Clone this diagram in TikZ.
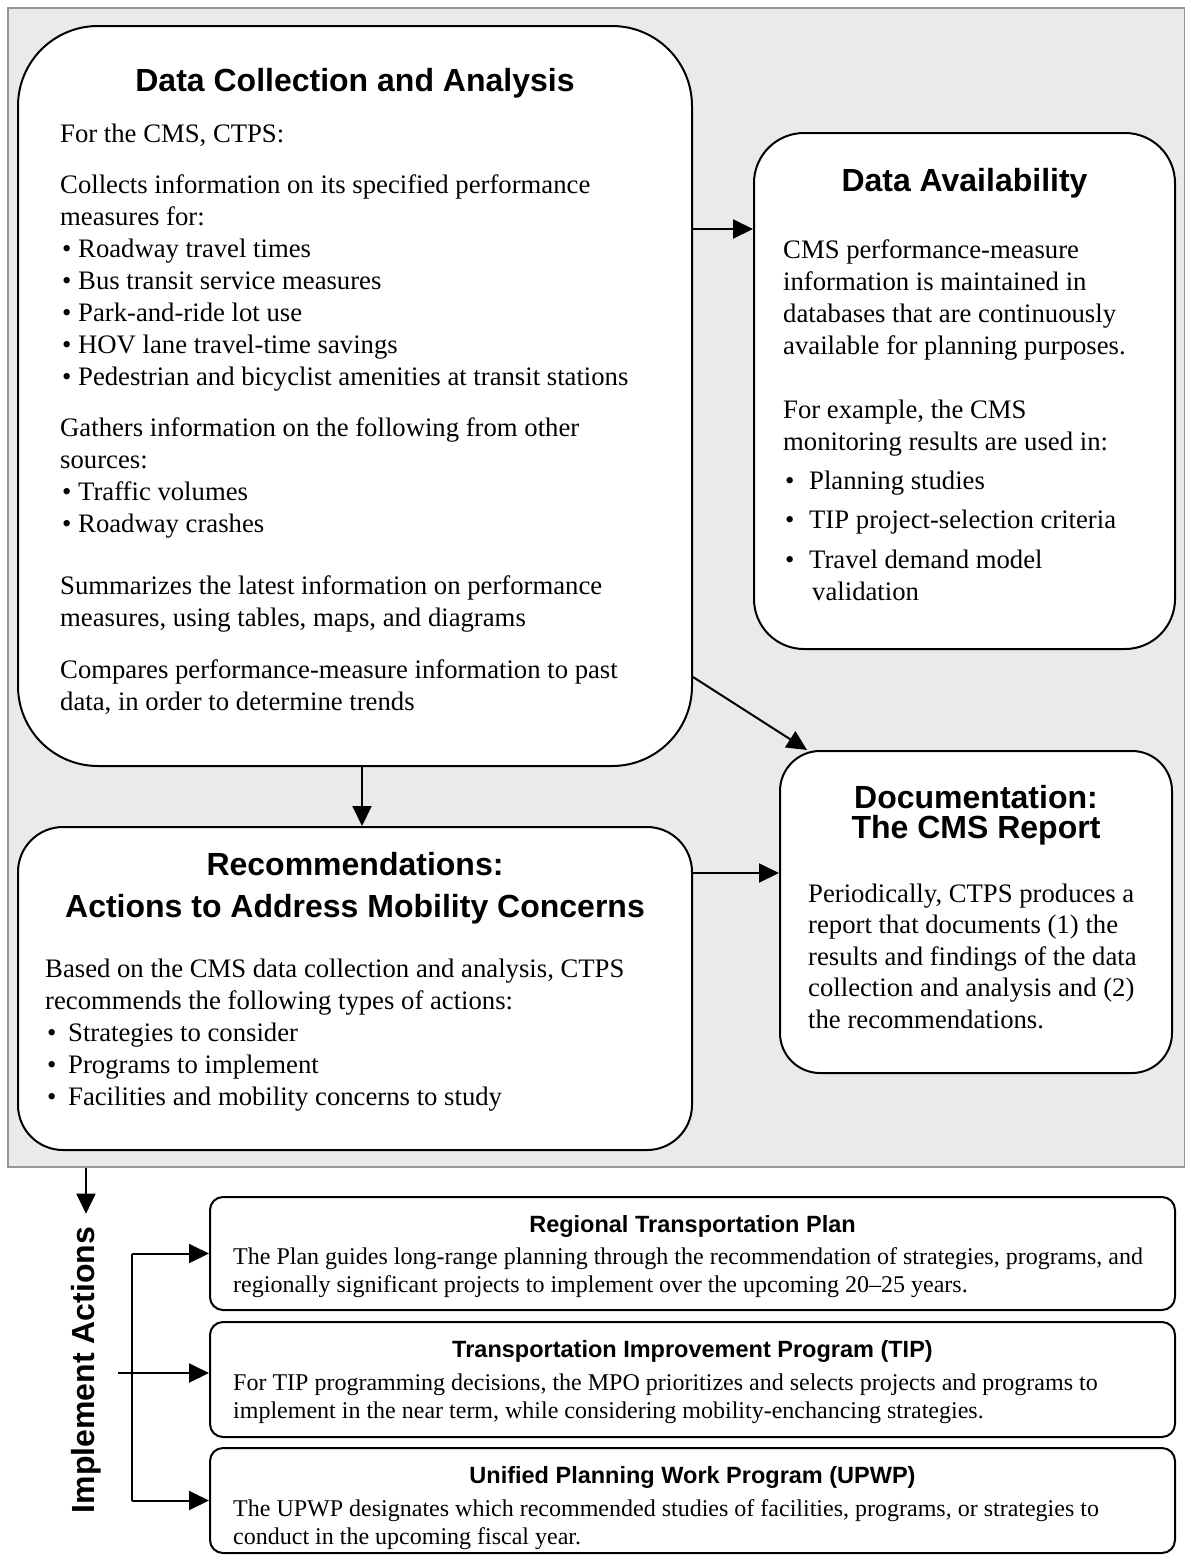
\documentclass[tikz,border=0pt]{standalone}
\usepackage{fontspec}
\setmainfont{Liberation Serif}
\setsansfont{Liberation Sans}
\usetikzlibrary{arrows.meta,calc}
\definecolor{panelgray}{RGB}{234,234,234}
\definecolor{panelline}{RGB}{150,150,150}
\newcommand{\bodytext}{\fontsize{26.7}{32}\selectfont}
\newcommand{\doctext}{\fontsize{26.7}{31.5}\selectfont}
\newcommand{\titletext}{\sffamily\bfseries\fontsize{32}{38}\selectfont}
\newcommand{\smallbody}{\fontsize{24}{28.5}\selectfont}
\newcommand{\smalltitle}{\sffamily\bfseries\fontsize{23.5}{28}\selectfont}
\newcommand{\bul}[1]{\makebox[#1][l]{\hspace{2pt}•}}
\begin{document}
\begin{tikzpicture}[x=1pt,y=-1pt,
  box/.style={draw=black,line width=2pt,fill=white,rounded corners=#1,inner sep=0pt},
  arr/.style={line width=2pt,-{Triangle[length=20pt,width=19pt]}},
  txt/.style={anchor=base west,inner sep=0pt,align=left,font=\bodytext},
  ttl/.style={anchor=base,inner sep=0pt,align=center,font=\titletext},
  stxt/.style={anchor=base west,inner sep=0pt,align=left,font=\smallbody},
  sttl/.style={anchor=base,inner sep=0pt,font=\smalltitle}]
\useasboundingbox (0,0) rectangle (1185,1556);
\fill[white] (0,0) rectangle (1185,1556);
% panel
\node[draw=panelline,fill=panelgray,line width=1.5pt,minimum width=1177pt,minimum height=1159pt,inner sep=0pt] (panel) at (596.5,587.5) {};
% boxes
\node[box=80pt,minimum width=674pt,minimum height=740pt] (b1) at (355,396) {};
\node[box=50pt,minimum width=421pt,minimum height=516pt] (b2) at (964.5,391) {};
\node[box=40pt,minimum width=392pt,minimum height=322pt] (b3) at (976,912) {};
\node[box=45pt,minimum width=674pt,minimum height=323pt] (b4) at (355,988.5) {};
\node[box=13pt,minimum width=965pt,minimum height=113pt] (rtp) at (692.5,1253.5) {};
\node[box=13pt,minimum width=965pt,minimum height=115pt] (tip) at (692.5,1379.5) {};
\node[box=13pt,minimum width=965pt,minimum height=105pt] (upwp) at (692.5,1500.5) {};
% box 1 text (multi-line nodes are anchored at the baseline of their last line)
\node[ttl] (t1) at (355,91) {Data Collection and Analysis};
\node[txt] (t1a) at (60,142) {For the CMS, CTPS:};
\node[txt] (t1b) at (60,385) {Collects information on its specified performance\\measures for:\\\bul{18pt}Roadway travel times\\\bul{18pt}Bus transit service measures\\\bul{18pt}Park-and-ride lot use\\\bul{18pt}HOV lane travel-time savings\\\bul{18pt}Pedestrian and bicyclist amenities at transit stations};
\node[txt] (t1c) at (60,532) {Gathers information on the following from other\\sources:\\\bul{18pt}Traffic volumes\\\bul{18pt}Roadway crashes};
\node[txt] (t1d) at (60,626) {Summarizes the latest information on performance\\measures, using tables, maps, and diagrams};
\node[txt] (t1e) at (60,710) {Compares performance-measure information to past\\data, in order to determine trends};
% box 2 text
\node[ttl] (t2) at (964.5,191.5) {Data Availability};
\node[txt] (t2a) at (783,354) {CMS performance-measure\\information is maintained in\\databases that are continuously\\available for planning purposes.};
\node[txt] (t2b) at (783,450) {For example, the CMS\\monitoring results are used in:};
\node[txt] (t2c) at (783,600) {\bul{26pt}Planning studies\\[7pt]\bul{26pt}TIP project-selection criteria\\[8pt]\bul{26pt}Travel demand model\\\hspace{29pt}validation};
% box 3 text
\node[ttl,font=\sffamily\bfseries\fontsize{32}{30}\selectfont] (t3) at (976,838) {Documentation:\\The CMS Report};
\node[txt,font=\doctext] (t3a) at (808,1028) {Periodically, CTPS produces a\\report that documents (1) the\\results and findings of the data\\collection and analysis and (2)\\the recommendations.};
% box 4 text
\node[ttl,font=\sffamily\bfseries\fontsize{32}{42}\selectfont] (t4) at (355,917) {Recommendations:\\Actions to Address Mobility Concerns};
\node[txt] (t4a) at (45,1105) {Based on the CMS data collection and analysis, CTPS\\recommends the following types of actions:\\\bul{23pt}Strategies to consider\\\bul{23pt}Programs to implement\\\bul{23pt}Facilities and mobility concerns to study};
% bottom boxes text
\node[sttl] (r1) at (692.5,1232.5) {Regional Transportation Plan};
\node[stxt] (r2) at (233,1292.5) {The Plan guides long-range planning through the recommendation of strategies, programs, and\\regionally significant projects to implement over the upcoming 20–25 years.};
\node[sttl] (p1) at (692.5,1357.5) {Transportation Improvement Program (TIP)};
\node[stxt] (p2) at (233,1418.5) {For TIP programming decisions, the MPO prioritizes and selects projects and programs to\\implement in the near term, while considering mobility-enchancing strategies.};
\node[sttl] (u1) at (692.5,1483.5) {Unified Planning Work Program (UPWP)};
\node[stxt] (u2) at (233,1544.5) {The UPWP designates which recommended studies of facilities, programs, or strategies to\\conduct in the upcoming fiscal year.};
% implement label
\node[rotate=90,inner sep=0pt,font=\titletext] (impl) at (86,1370) {Implement Actions};
% connectors
\draw[arr] (b1.east |- 0,229) -- (b2.west |- 0,229);
\draw[arr] (b1.east |- 0,677) -- ([xshift=28pt]b3.north west);
\draw[arr] (b1.south -| 362,0) -- (b4.north -| 362,0);
\draw[arr] (b4.east |- 0,873) -- (b3.west |- 0,873);
\draw[arr] (panel.south -| impl.east) -- ([yshift=13pt]impl.east);
\coordinate (v) at (132,0);
\coordinate (j) at (118,1373);
\draw[line width=2pt] (v |- rtp.west) -- (v |- upwp.west);
\draw[arr] (v |- rtp.west) -- (rtp.west);
\draw[arr] (j) -- (tip.west |- j);
\draw[arr] (v |- upwp.west) -- (upwp.west);
\end{tikzpicture}
\end{document}
